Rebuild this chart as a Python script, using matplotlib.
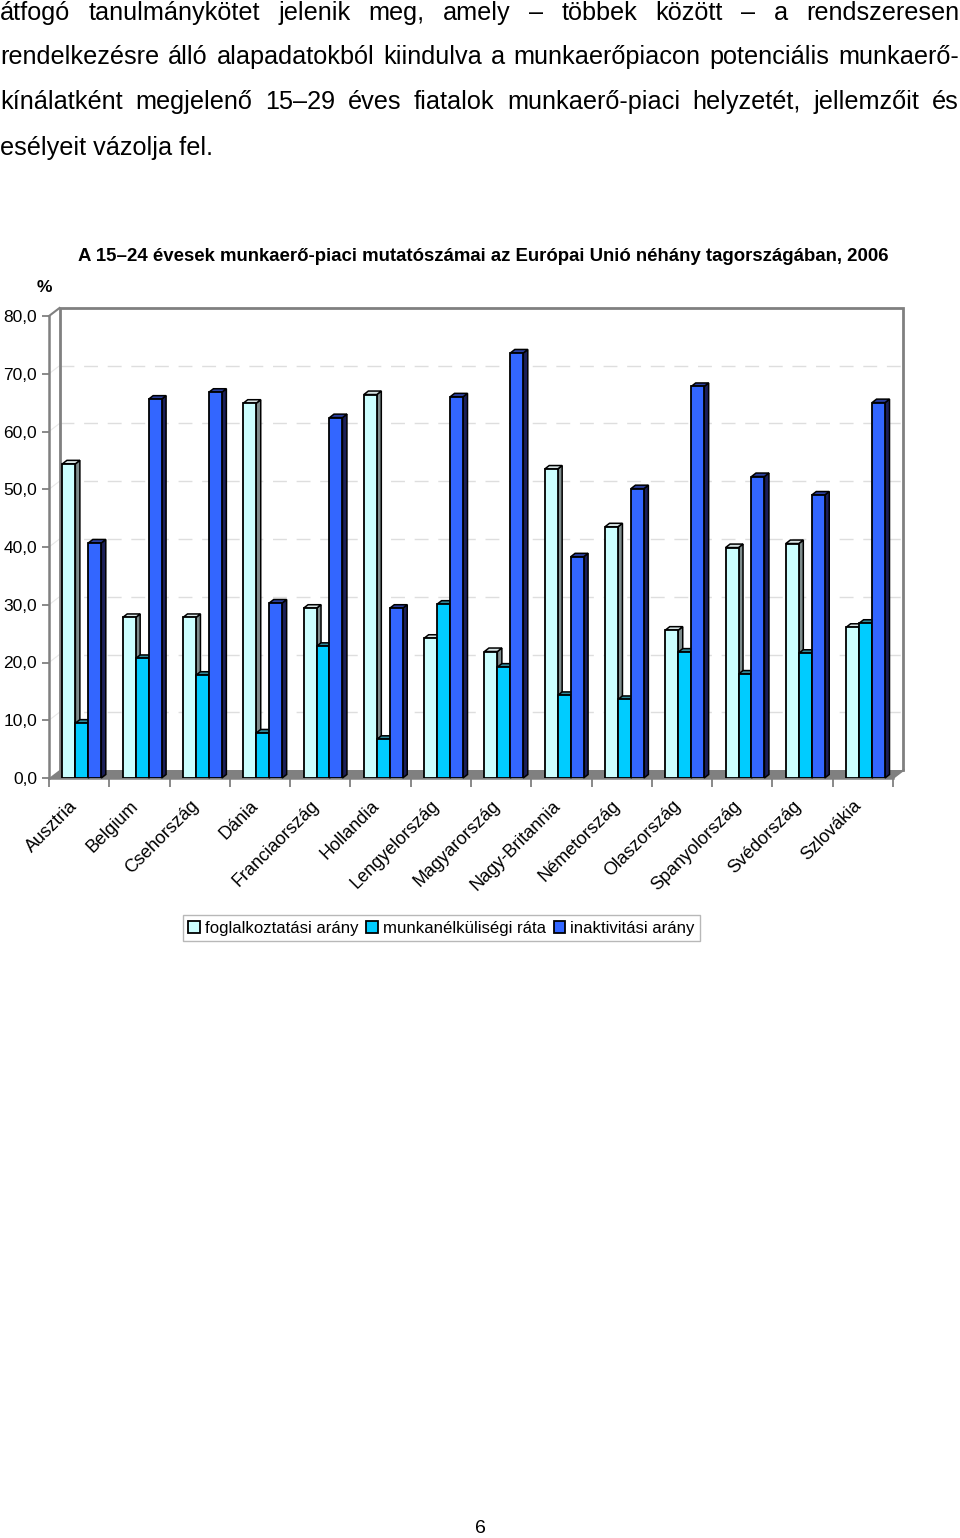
import matplotlib
matplotlib.use("Agg")
import matplotlib.pyplot as plt
from matplotlib.patches import Polygon, Rectangle
import matplotlib.transforms as mtransforms
import numpy as np

plt.rcParams["font.family"] = ["Liberation Sans", "DejaVu Sans"]

# ---------------- data ----------------
countries = ["Ausztria", "Belgium", "Csehország", "Dánia", "Franciaország", "Hollandia",
             "Lengyelország", "Magyarország", "Nagy-Britannia", "Németország", "Olaszország",
             "Spanyolország", "Svédország", "Szlovákia"]
employment = [54.4, 27.8, 27.8, 64.9, 29.4, 66.4, 24.2, 21.9, 53.5, 43.5, 25.6, 39.9, 40.6, 26.1]
unemployment = [9.5, 20.7, 17.8, 7.8, 22.8, 6.7, 30.1, 19.2, 14.3, 13.6, 21.8, 18.0, 21.6, 26.8]
inactivity = [40.7, 65.6, 66.8, 30.3, 62.4, 29.4, 66.0, 73.6, 38.3, 50.1, 67.8, 52.2, 49.0, 65.0]
series_names = ["foglalkoztatási arány", "munkanélküliségi ráta", "inaktivitási arány"]
y_ticks = [0, 10, 20, 30, 40, 50, 60, 70, 80]
y_tick_labels = ["0,0", "10,0", "20,0", "30,0", "40,0", "50,0", "60,0", "70,0", "80,0"]
chart_title = "A 15–24 évesek munkaerő-piaci mutatószámai az Európai Unió néhány tagországában, 2006"
body_lines = [
    "átfogó tanulmánykötet jelenik meg, amely – többek között – a rendszeresen",
    "rendelkezésre álló alapadatokból kiindulva a munkaerőpiacon potenciális munkaerő-",
    "kínálatként megjelenő 15–29 éves fiatalok munkaerő-piaci helyzetét, jellemzőit és",
    "esélyeit vázolja fel.",
]
page_number = "6"

# ---------------- styles ----------------
front_colors = ["#CCFFFF", "#00CCFF", "#3366FF"]
top_colors = ["#D8E4E4", "#2E8A9C", "#2B3F9E"]
side_colors = ["#7E8C8C", "#0A6A80", "#1B1F58"]
offsets = [-0.17, 0.045, 0.26]
bar_w = 0.215

W, H = 960, 1538
fig = plt.figure(figsize=(W / 100, H / 100), dpi=100)

def fx(px):
    return px / W

def fy(py):
    return (H - py) / H

# axes = front plane of the 3D chart
ax_left, ax_right, ax_top, ax_bottom = 49, 893, 316, 778
ax = fig.add_axes([fx(ax_left), fy(ax_bottom), fx(ax_right - ax_left), (ax_bottom - ax_top) / H])
n = len(countries)
ax.set_xlim(-0.5, n - 0.5)
ax.set_ylim(0, 80)

px_x = (ax_right - ax_left) / n
px_y = (ax_bottom - ax_top) / 80.0
dxb, dyb = 10.5 / px_x, 8.0 / px_y      # back-wall depth
dxd, dyd = 4.5 / px_x, 3.5 / px_y       # bar depth

x0, x1 = -0.5, n - 0.5
gray = "#808080"
# floor
ax.add_patch(Polygon([(x0, 0), (x1, 0), (x1 + dxb, dyb), (x0 + dxb, dyb)], closed=True,
                     facecolor=gray, edgecolor="none", zorder=1, clip_on=False))
# gridlines on back wall and left wall
for v in y_ticks[1:-1]:
    ax.plot([x0 + dxb, x1 + dxb], [v + dyb, v + dyb], color="#DEDEDE", lw=1.0,
            dashes=(10, 7), zorder=0.5, clip_on=False)
    ax.plot([x0, x0 + dxb], [v, v + dyb], color="#E8E8E8", lw=0.8, zorder=0.5, clip_on=False)
# walls
ax.plot([x0 + dxb, x0 + dxb, x1 + dxb, x1 + dxb], [dyb, 80 + dyb, 80 + dyb, dyb],
        color=gray, lw=2.0, zorder=0.6, clip_on=False, solid_joinstyle="miter")
ax.plot([x0, x0 + dxb], [80, 80 + dyb], color=gray, lw=1.5, zorder=0.6, clip_on=False)
ax.plot([x1, x1 + dxb], [0, dyb], color=gray, lw=1.5, zorder=0.6, clip_on=False)

# bars
x = np.arange(n)
series = [employment, unemployment, inactivity]
for si, (vals, off) in enumerate(zip(series, offsets)):
    bars = ax.bar(x + off, vals, bar_w, color=front_colors[si], edgecolor="black",
                  linewidth=1.3, zorder=3 + si * 0.01, label=series_names[si])
    for b in bars:
        bx, bw, bh = b.get_x(), b.get_width(), b.get_height()
        z = 2.5 + si * 0.01
        side = Polygon([(bx + bw, 0), (bx + bw + dxd, dyd), (bx + bw + dxd, bh + dyd), (bx + bw, bh)],
                       closed=True, facecolor=side_colors[si], edgecolor="black", lw=1.1, zorder=z,
                       clip_on=False)
        top = Polygon([(bx, bh), (bx + dxd, bh + dyd), (bx + bw + dxd, bh + dyd), (bx + bw, bh)],
                      closed=True, facecolor=top_colors[si], edgecolor="black", lw=1.1, zorder=z,
                      clip_on=False)
        ax.add_patch(side)
        ax.add_patch(top)

# axes styling
for s in ["top", "right"]:
    ax.spines[s].set_visible(False)
ax.spines["left"].set_color(gray)
ax.spines["left"].set_linewidth(1.8)
ax.spines["bottom"].set_color(gray)
ax.spines["bottom"].set_linewidth(1.8)
ax.set_facecolor("none")
ax.set_yticks(y_ticks)
ax.set_yticklabels(y_tick_labels, fontsize=12.5)
ax.tick_params(axis="y", direction="out", length=5, width=1.3, color=gray, pad=3.5)
ax.set_xticks(np.arange(-0.5, n, 1.0), minor=True)
ax.set_xticks(x)
ax.tick_params(axis="x", which="minor", direction="out", length=6.5, width=1.3, color=gray)
ax.tick_params(axis="x", which="major", length=0, pad=14)
ax.set_xticklabels(countries, rotation=45, ha="right", va="top", rotation_mode="anchor",
                   fontsize=13)
shift = mtransforms.ScaledTranslation(-10 / 100, 0, fig.dpi_scale_trans)
for lab in ax.get_xticklabels():
    lab.set_transform(lab.get_transform() + shift)

# title and unit
fig.text(fx(483.5), fy(261), chart_title, ha="center", va="baseline", fontsize=13.4,
         fontweight="bold")
fig.text(fx(44), fy(292), "%", ha="center", va="baseline", fontsize=12.5, fontweight="bold")

# legend
handles = [Rectangle((0, 0), 1, 1, facecolor=c, edgecolor="black", lw=1.3) for c in front_colors]
leg = fig.legend(handles, series_names, loc="center", bbox_to_anchor=(fx(441.5), fy(928)),
                 ncol=3, fontsize=12.1, frameon=True, fancybox=False, handlelength=0.7,
                 handleheight=0.7, handletextpad=0.3, columnspacing=0.45, borderpad=0.3,
                 borderaxespad=0)
leg.get_frame().set_edgecolor("#A6A6A6")
leg.get_frame().set_linewidth(1.0)

# body text (justified)
renderer = fig.canvas.get_renderer()
baselines = [20, 64, 109, 155]
for li, (line, yb) in enumerate(zip(body_lines, baselines)):
    words = line.split(" ")
    if li == len(body_lines) - 1:
        fig.text(0, fy(yb), line, ha="left", va="baseline", fontsize=18.2)
        continue
    texts = [fig.text(0, fy(yb), w, ha="left", va="baseline", fontsize=18.2) for w in words]
    widths = [t.get_window_extent(renderer).width for t in texts]
    gap = (959 - sum(widths)) / (len(words) - 1)
    xpos = 0.0
    for t, wd in zip(texts, widths):
        t.set_x(fx(xpos))
        xpos += wd + gap

fig.text(fx(480), fy(1533), page_number, ha="center", va="baseline", fontsize=14)

fig.savefig("out.png", dpi=100)
